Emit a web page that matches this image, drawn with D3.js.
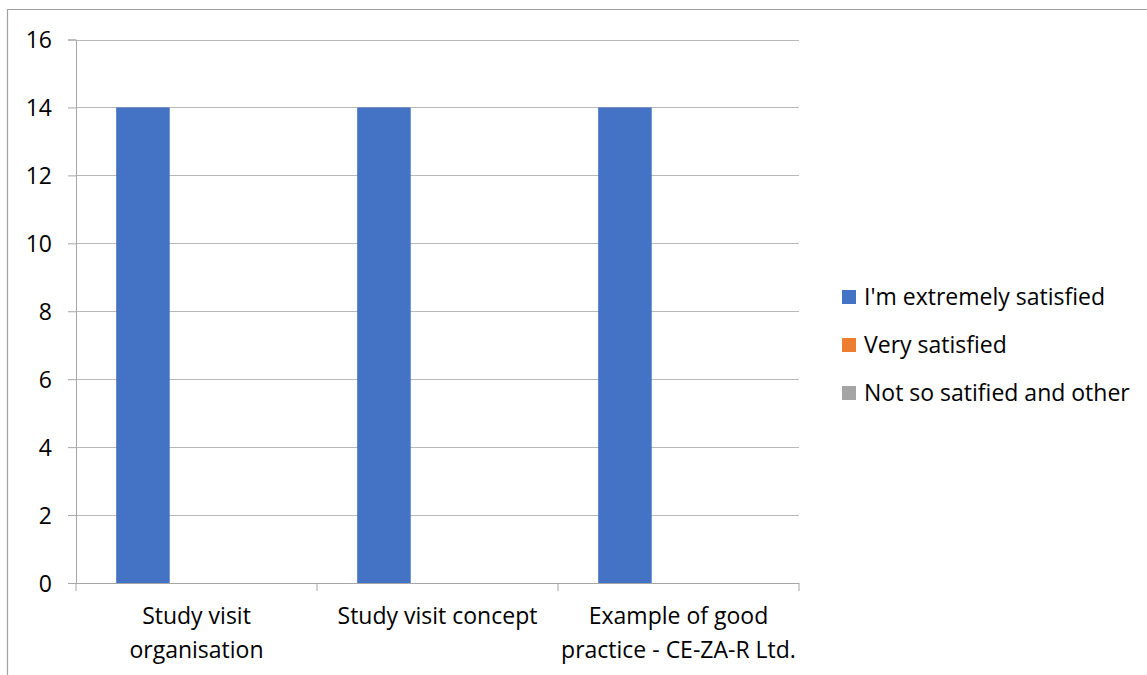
<!DOCTYPE html>
<html>
<head>
<meta charset="utf-8">
<script src="https://cdn.jsdelivr.net/npm/d3@7"></script>
<style>
  body { margin: 0; background: #fff; }
  svg text { font-family: "Open Sans", Lato, sans-serif; fill: #000; }
</style>
</head>
<body>
<svg id="chart" width="1147" height="675"></svg>
<script>
// data
var categories = [["Study visit", "organisation"], ["Study visit concept"], ["Example of good", "practice - CE-ZA-R Ltd."]];
var series = ["I'm extremely satisfied", "Very satisfied", "Not so satified and other"];
var colors = ["#4472C4", "#ED7D31", "#A5A5A5"];
var values = [
  [14, 14, 14],   // I'm extremely satisfied
  [0, 0, 0],      // Very satisfied
  [0, 0, 0]       // Not so satified and other
];
var yTicks = [0, 2, 4, 6, 8, 10, 12, 14, 16];

var svg = d3.select("#chart");
var plotLeft = 76, plotRight = 799, plotTop = 39.5, plotBottom = 583;
var gridColor = "#B8B8B8", axisColor = "#A6A6A6";
var fontSize = "23px";

// outer frame (runs off the right and bottom edge)
svg.append("path")
    .attr("d", "M7.5,700 L7.5,9.5 L1160,9.5")
    .attr("fill", "none").attr("stroke", "#A0A0A0").attr("stroke-width", 1.2);

var x = d3.scaleBand().domain(d3.range(categories.length)).range([plotLeft, plotRight]);
var y = d3.scaleLinear().domain([0, 16]).range([plotBottom, plotTop]);
var barW = x.bandwidth() / 4.5;   // gap width 150%
var xs = d3.scaleBand().domain(d3.range(series.length))
    .range([barW * 0.75, barW * 3.75]);

// gridlines
svg.append("g").selectAll("line")
  .data(yTicks.filter(function(d) { return d > 0; }))
  .enter().append("line")
    .attr("x1", plotLeft).attr("x2", plotRight)
    .attr("y1", function(d) { return Math.round(y(d)) + 0.5; })
    .attr("y2", function(d) { return Math.round(y(d)) + 0.5; })
    .attr("stroke", gridColor);

// y axis
var yAxis = d3.axisLeft(y).tickValues(yTicks).tickSize(8).tickPadding(16)
    .tickFormat(d3.format("d"));
var gy = svg.append("g").attr("transform", "translate(" + plotLeft + ",0)").call(yAxis);
gy.select(".domain").attr("stroke", axisColor);
gy.selectAll(".tick line").attr("stroke", axisColor);
gy.selectAll(".tick text").style("font-size", fontSize).attr("dy", "0.36em")
    .style("font-family", "'Open Sans', sans-serif");

// bars
series.forEach(function(s, si) {
  svg.append("g").selectAll("rect")
    .data(values[si])
    .enter().append("rect")
      .attr("x", function(d, i) { return x(i) + xs(si); })
      .attr("width", xs.bandwidth())
      .attr("y", function(d) { return y(d); })
      .attr("height", function(d) { return plotBottom - y(d); })
      .attr("fill", colors[si]);
});

// category axis
svg.append("line")
    .attr("x1", plotLeft).attr("x2", plotRight)
    .attr("y1", plotBottom + 0.5).attr("y2", plotBottom + 0.5)
    .attr("stroke", axisColor);
svg.append("g").selectAll("line")
  .data(d3.range(categories.length + 1))
  .enter().append("line")
    .attr("x1", function(i) { return plotLeft + i * x.step(); })
    .attr("x2", function(i) { return plotLeft + i * x.step(); })
    .attr("y1", plotBottom).attr("y2", plotBottom + 8)
    .attr("stroke", axisColor);

svg.append("g").selectAll("text")
  .data(categories)
  .enter().append("text")
    .attr("text-anchor", "middle")
    .attr("x", function(d, i) { return x(i) + x.bandwidth() / 2; })
    .attr("y", 624)
    .style("font-size", fontSize)
    .selectAll("tspan")
    .data(function(d) { return d; })
    .enter().append("tspan")
      .attr("x", function() { return d3.select(this.parentNode).attr("x"); })
      .attr("dy", function(d, i) { return i === 0 ? 0 : 34; })
      .text(function(d) { return d; });

// legend
var lg = svg.append("g").selectAll("g")
  .data(series)
  .enter().append("g")
    .attr("transform", function(d, i) { return "translate(842," + (297 + i * 48) + ")"; });
lg.append("rect").attr("x", 0).attr("y", -7).attr("width", 14).attr("height", 14)
    .attr("fill", function(d, i) { return colors[i]; });
lg.append("text").attr("x", 22).attr("dy", "0.36em")
    .style("font-size", fontSize)
    .text(function(d) { return d; });
</script>
</body>
</html>
